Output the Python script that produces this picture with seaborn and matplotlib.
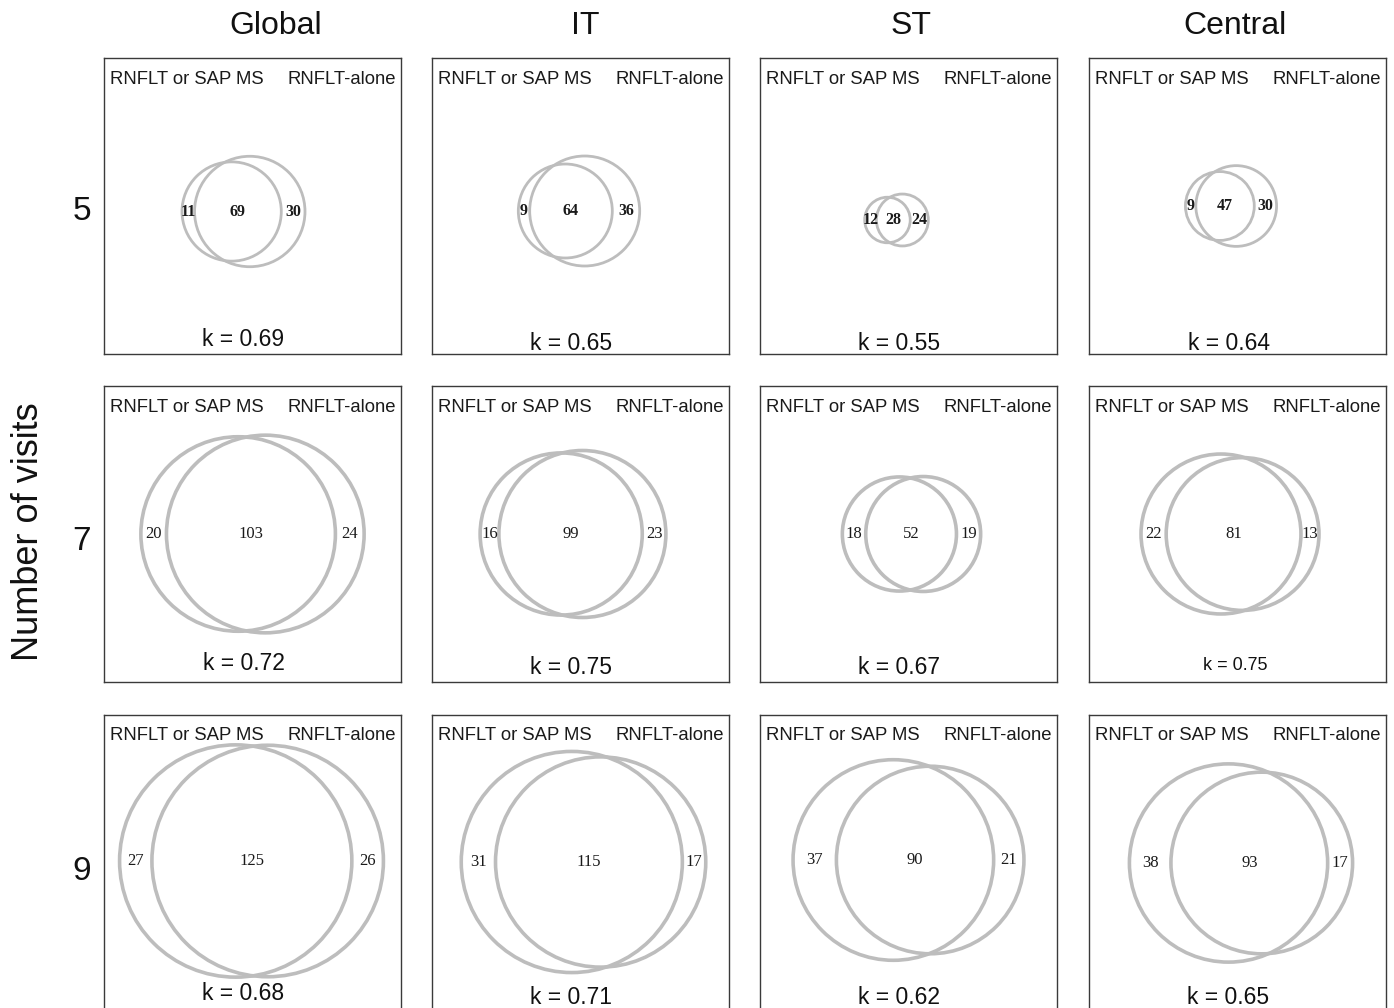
import numpy as np
import matplotlib
matplotlib.use("Agg")
import matplotlib.pyplot as plt
from matplotlib.patches import Circle
import seaborn as sns

# counts
regions = ["Global", "IT", "ST", "Central"]
visits = ["5", "7", "9"]
left_only = [[11, 9, 12, 9], [20, 16, 18, 22], [27, 31, 37, 38]]
both = [[69, 64, 28, 47], [103, 99, 52, 81], [125, 115, 90, 93]]
right_only = [[30, 36, 24, 30], [24, 23, 19, 13], [26, 17, 21, 17]]
kappa = [[0.69, 0.65, 0.55, 0.64], [0.72, 0.75, 0.67, 0.75], [0.68, 0.71, 0.62, 0.65]]
left_name = "RNFLT or SAP MS"
right_name = "RNFLT-alone"

# layout (pixels)
box_x = [104, 432, 760, 1089]
box_y = [58, 386, 715]
W, H = 297, 296
scale = [[5.55, 5.5, 3.6, 4.6], [8.77, 7.56, 6.82, 7.88], [9.42, 9.15, 8.9, 8.66]]
shift_x = [[-9, -1.5, -12, -6.5], [0, -7.5, 3, -7.5], [-1, 3, 0, 3.5]]
shift_y = [[5.5, 5, 14, 0], [0, 0, 0, 0], [-2, -1, -3, 0]]
k_y = [[281, 285, 285, 285], [277, 281, 281, 279], [279, 282, 282, 282]]
title_dx = [23, 4.5, 2.5, -2.5]
row_dy = [5, 7, 9]

sns.set_theme(style="white")
plt.rcParams["font.family"] = ["Liberation Sans", "DejaVu Sans"]
ring = "#bdbdbd"


def lens_area(r1, r2, d):
    if d >= r1 + r2:
        return 0.0
    if d <= abs(r1 - r2):
        return np.pi * min(r1, r2) ** 2
    a1 = r1 ** 2 * np.arccos((d ** 2 + r1 ** 2 - r2 ** 2) / (2 * d * r1))
    a2 = r2 ** 2 * np.arccos((d ** 2 + r2 ** 2 - r1 ** 2) / (2 * d * r2))
    a3 = 0.5 * np.sqrt((-d + r1 + r2) * (d + r1 - r2) * (d - r1 + r2) * (d + r1 + r2))
    return a1 + a2 - a3


def centre_dist(r1, r2, target):
    lo, hi = abs(r1 - r2), r1 + r2
    for _ in range(80):
        mid = (lo + hi) / 2
        if lens_area(r1, r2, mid) > target:
            lo = mid
        else:
            hi = mid
    return (lo + hi) / 2


fig = plt.figure(figsize=(13.94, 10.08), dpi=100)
FW, FH = 1394, 1008

for i in range(3):
    for j in range(4):
        ax = fig.add_axes([box_x[j] / FW, 1 - (box_y[i] + H) / FH, W / FW, H / FH])
        ax.set_xlim(0, W)
        ax.set_ylim(H, 0)
        ax.set_xticks([])
        ax.set_yticks([])
        for s in ax.spines.values():
            s.set_color("#3a3a3a")
            s.set_linewidth(1.0)

        s = scale[i][j]
        n1 = left_only[i][j] + both[i][j]
        n2 = right_only[i][j] + both[i][j]
        r1, r2 = s * np.sqrt(n1), s * np.sqrt(n2)
        d = centre_dist(r1, r2, np.pi * s ** 2 * both[i][j])
        span_l = -r1
        span_r = max(r1, d + r2)
        mid = W / 2 + shift_x[i][j]
        c1 = mid - (span_l + span_r) / 2
        c2 = c1 + d
        cy = H / 2 + shift_y[i][j]
        lw = 2.0 if i == 0 else 2.6
        ax.add_patch(Circle((c1, cy), r1, fill=False, ec=ring, lw=lw))
        ax.add_patch(Circle((c2, cy), r2, fill=False, ec=ring, lw=lw))

        num_kw = dict(family="Liberation Serif", ha="center", va="center",
                      color="#1a1a1a", fontsize=11.5 if i == 0 else 12,
                      fontweight="bold" if i == 0 else "normal")
        ax.text(((c1 - r1) + (c2 - r2)) / 2, cy, str(left_only[i][j]), **num_kw)
        ax.text(((c2 - r2) + (c1 + r1)) / 2, cy, str(both[i][j]), **num_kw)
        ax.text(((c1 + r1) + (c2 + r2)) / 2, cy, str(right_only[i][j]), **num_kw)

        ax.text(6, 21, left_name, ha="left", va="center", fontsize=13.3, color="#1a1a1a")
        ax.text(W - 5, 21, right_name, ha="right", va="center", fontsize=13.3, color="#1a1a1a")
        small = (i == 1 and j == 3)
        ax.text(W / 2 - (2 if small else 9), k_y[i][j], f"k = {kappa[i][j]:.2f}",
                ha="center", va="center", fontsize=13 if small else 16.5, color="#111111")

# column titles
for j, name in enumerate(regions):
    fig.text((box_x[j] + W / 2 + title_dx[j]) / FW, 1 - 26 / FH, name, ha="center",
             va="center", fontsize=23, color="#111111")

# row labels
for i, v in enumerate(visits):
    fig.text(82 / FW, 1 - (box_y[i] + H / 2 + row_dy[i]) / FH, v, ha="center", va="center",
             fontsize=24, color="#111111")

fig.text(29 / FW, 1 - 532 / FH, "Number of visits", rotation=90, ha="center", va="center",
         fontsize=26, color="#111111")

fig.savefig("out.png", dpi=100)
